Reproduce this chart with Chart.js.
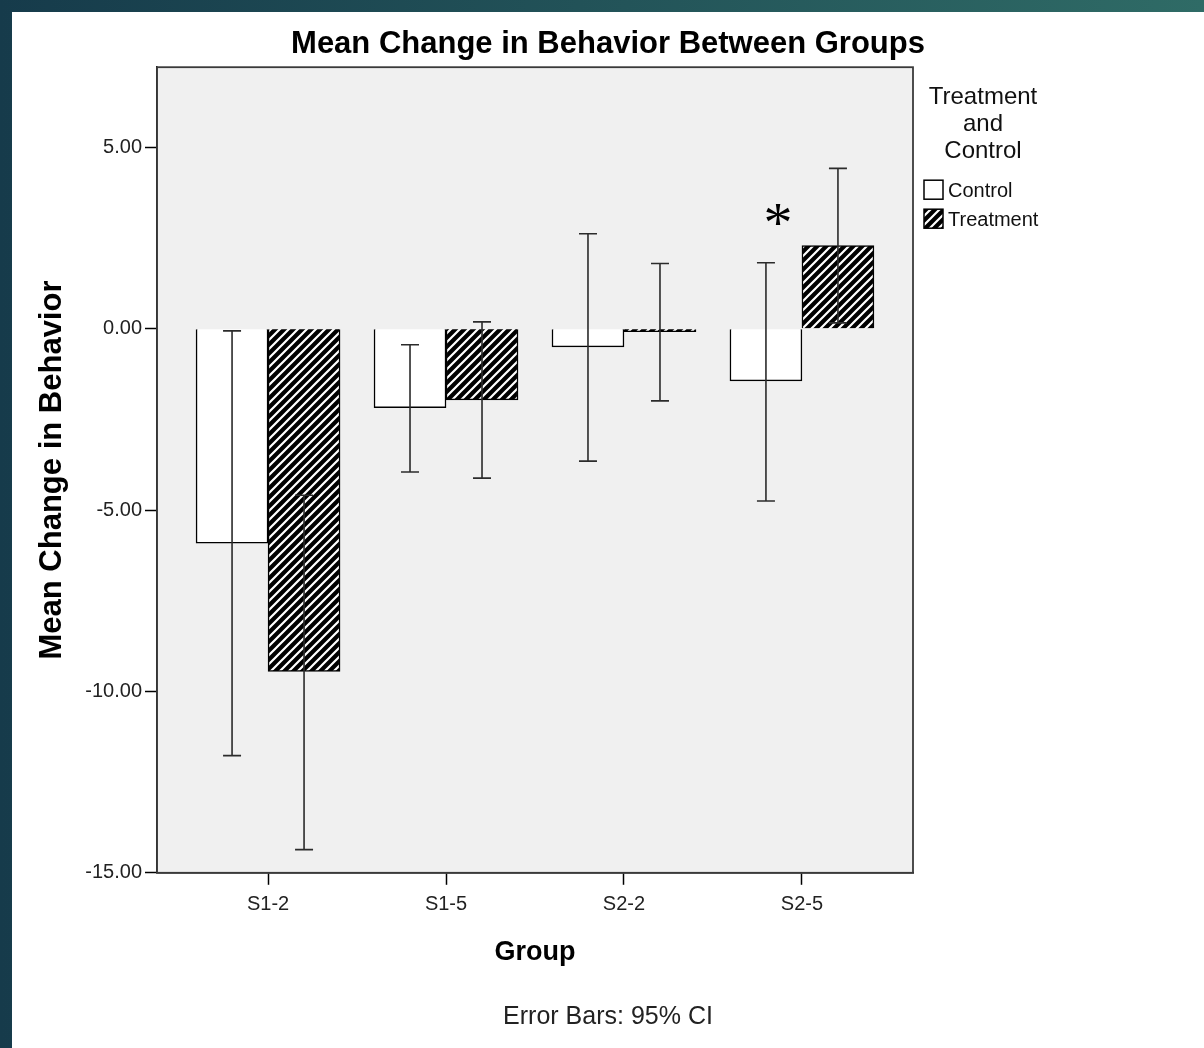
<!DOCTYPE html>
<html>
<head>
<meta charset="utf-8">
<script src="https://cdn.jsdelivr.net/npm/chart.js@4.4.1/dist/chart.umd.min.js"></script>
<style>
  html, body { margin: 0; padding: 0; }
  body {
    width: 1204px; height: 1048px; overflow: hidden;
    background: linear-gradient(to right, #163b4b, #2f6b66);
  }
  #wrap { position: absolute; left: 12px; top: 12px; width: 1192px; height: 1036px; background: #fff; }
</style>
</head>
<body>
<div id="wrap"><canvas id="behaviorChart" width="1192" height="1036"></canvas></div>
<script>
"use strict";

const groups = ["S1-2", "S1-5", "S2-2", "S2-5"];

const controlMean = [-5.91, -2.18, -0.5, -1.44];
const controlLow = [-11.77, -3.95, -3.65, -4.75];
const controlHigh = [-0.06, -0.44, 2.62, 1.82];

const treatmentMean = [-9.45, -1.96, -0.08, 2.29];
const treatmentLow = [-14.36, -4.12, -1.99, 0.16];
const treatmentHigh = [-4.59, 0.19, 1.8, 4.42];

const significantGroups = ["S2-5"];

const FONT = "'Liberation Sans', Arial, sans-serif";

const ctx = document.getElementById("behaviorChart").getContext("2d");

function makeHatch() {
  const tile = document.createElement("canvas");
  tile.width = 9;
  tile.height = 9;
  const t = tile.getContext("2d");
  t.fillStyle = "#000";
  t.fillRect(0, 0, 9, 9);
  t.strokeStyle = "#fff";
  t.lineWidth = 2.2;
  t.beginPath();
  t.moveTo(-1, 10); t.lineTo(10, -1);
  t.moveTo(-1, 1); t.lineTo(1, -1);
  t.moveTo(8, 10); t.lineTo(10, 8);
  t.stroke();
  return ctx.createPattern(tile, "repeat");
}

const hatch = makeHatch();

const toPoints = (arr) => arr.map((v, i) => ({ x: i, y: v }));

// gray plot background
const plotBackground = {
  id: "plotBackground",
  beforeDraw(chart) {
    const { ctx, chartArea: a } = chart;
    ctx.save();
    ctx.fillStyle = "#f0f0f0";
    ctx.fillRect(a.left, a.top, a.right - a.left, a.bottom - a.top);
    ctx.restore();
  },
};

// 95% CI whiskers, read from the arrays above through the y scale
const errorBars = {
  id: "errorBars",
  afterDatasetsDraw(chart) {
    const { ctx } = chart;
    const yScale = chart.scales.y;
    ctx.save();
    ctx.strokeStyle = "#2b2b2b";
    ctx.lineWidth = 1.6;
    chart.data.datasets.forEach((ds, di) => {
      chart.getDatasetMeta(di).data.forEach((bar, i) => {
        const x = bar.x;
        const yLow = yScale.getPixelForValue(ds.ciLow[i]);
        const yHigh = yScale.getPixelForValue(ds.ciHigh[i]);
        ctx.beginPath();
        ctx.moveTo(x, yLow); ctx.lineTo(x, yHigh);
        ctx.moveTo(x - 9, yLow); ctx.lineTo(x + 9, yLow);
        ctx.moveTo(x - 9, yHigh); ctx.lineTo(x + 9, yHigh);
        ctx.stroke();
      });
    });

    // significance mark
    const xScale = chart.scales.x;
    ctx.fillStyle = "#000";
    ctx.font = "58px 'Liberation Serif', serif";
    ctx.textAlign = "center";
    ctx.textBaseline = "middle";
    significantGroups.forEach((g) => {
      const i = groups.indexOf(g);
      const px = xScale.getPixelForValue(i) - 24;
      const py = yScale.getPixelForValue(controlHigh[i]) - 36;
      ctx.fillText("*", px, py);
    });

    // plot frame
    const a = chart.chartArea;
    ctx.strokeStyle = "#3a3a3a";
    ctx.lineWidth = 1.8;
    ctx.strokeRect(a.left, a.top, a.right - a.left, a.bottom - a.top);
    ctx.restore();
  },
};

// legend on the right, with a three line title
const sideLegend = {
  id: "sideLegend",
  afterDraw(chart) {
    const { ctx } = chart;
    const a = chart.chartArea;
    const cx = a.right + 70;
    ctx.save();
    ctx.fillStyle = "#111";
    ctx.textAlign = "center";
    ctx.textBaseline = "middle";
    ctx.font = "24px " + FONT;
    ["Treatment", "and", "Control"].forEach((line, k) => {
      ctx.fillText(line, cx, a.top + 30 + k * 27);
    });
    ctx.textAlign = "left";
    ctx.font = "20px " + FONT;
    chart.data.datasets.forEach((ds, k) => {
      const bx = a.right + 11;
      const by = a.top + 113 + k * 29;
      ctx.fillStyle = ds.backgroundColor;
      ctx.fillRect(bx, by, 19, 19);
      ctx.strokeStyle = "#000";
      ctx.lineWidth = 1.5;
      ctx.strokeRect(bx, by, 19, 19);
      ctx.fillStyle = "#111";
      ctx.fillText(ds.label, bx + 24, by + 11);
    });
    ctx.restore();
  },
};

new Chart(ctx, {
  type: "bar",
  data: {
    datasets: [
      {
        label: "Control",
        data: toPoints(controlMean),
        ciLow: controlLow,
        ciHigh: controlHigh,
        backgroundColor: "#ffffff",
        borderColor: "#000",
        borderWidth: 1.5,
        barThickness: 72,
      },
      {
        label: "Treatment",
        data: toPoints(treatmentMean),
        ciLow: treatmentLow,
        ciHigh: treatmentHigh,
        backgroundColor: hatch,
        borderColor: "#000",
        borderWidth: 1.5,
        barThickness: 72,
      },
    ],
  },
  options: {
    responsive: false,
    animation: false,
    layout: { padding: 0 },
    plugins: {
      legend: { display: false },
      tooltip: { enabled: false },
      title: {
        display: true,
        text: "Mean Change in Behavior Between Groups",
        color: "#000",
        font: { family: FONT, size: 31, weight: "bold" },
        padding: { top: 14, bottom: 4 },
      },
      subtitle: {
        display: true,
        position: "bottom",
        text: "Error Bars: 95% CI",
        color: "#222",
        font: { family: FONT, size: 25 },
        padding: { top: 10, bottom: 16 },
      },
    },
    scales: {
      x: {
        type: "linear",
        min: -0.624,
        max: 3.624,
        offset: false,
        grid: { drawOnChartArea: false, offset: false, color: "#000", tickLength: 12, tickWidth: 1.5 },
        border: { color: "#000", width: 1.5 },
        ticks: {
          stepSize: 1,
          includeBounds: false,
          padding: 8,
          color: "#222",
          font: { family: FONT, size: 20 },
          callback: (v) => groups[v] ?? "",
        },
        title: {
          display: true,
          text: "Group",
          color: "#000",
          font: { family: FONT, size: 27, weight: "bold" },
          padding: { top: 0, bottom: 23 },
        },
        afterFit: (scale) => { scale.height = 119.2; },
      },
      y: {
        min: -15,
        max: 7.21,
        grid: { drawOnChartArea: false, color: "#000", tickLength: 12, tickWidth: 1.5 },
        border: { color: "#000", width: 1.5 },
        ticks: {
          stepSize: 5,
          includeBounds: false,
          padding: 3,
          color: "#222",
          font: { family: FONT, size: 20 },
          callback: (v) => v.toFixed(2),
        },
        title: {
          display: true,
          text: "Mean Change in Behavior",
          color: "#000",
          font: { family: FONT, size: 31, weight: "bold" },
          padding: { top: 22, bottom: 0 },
        },
        afterFit: (scale) => { scale.width = 145; },
      },
      // empty axis on the right that keeps room for the legend
      legendSpace: {
        type: "linear",
        position: "right",
        grid: { display: false },
        border: { display: false },
        ticks: { display: false },
        afterFit: (scale) => { scale.width = 291; },
      },
    },
  },
  plugins: [plotBackground, errorBars, sideLegend],
});
</script>
</body>
</html>
